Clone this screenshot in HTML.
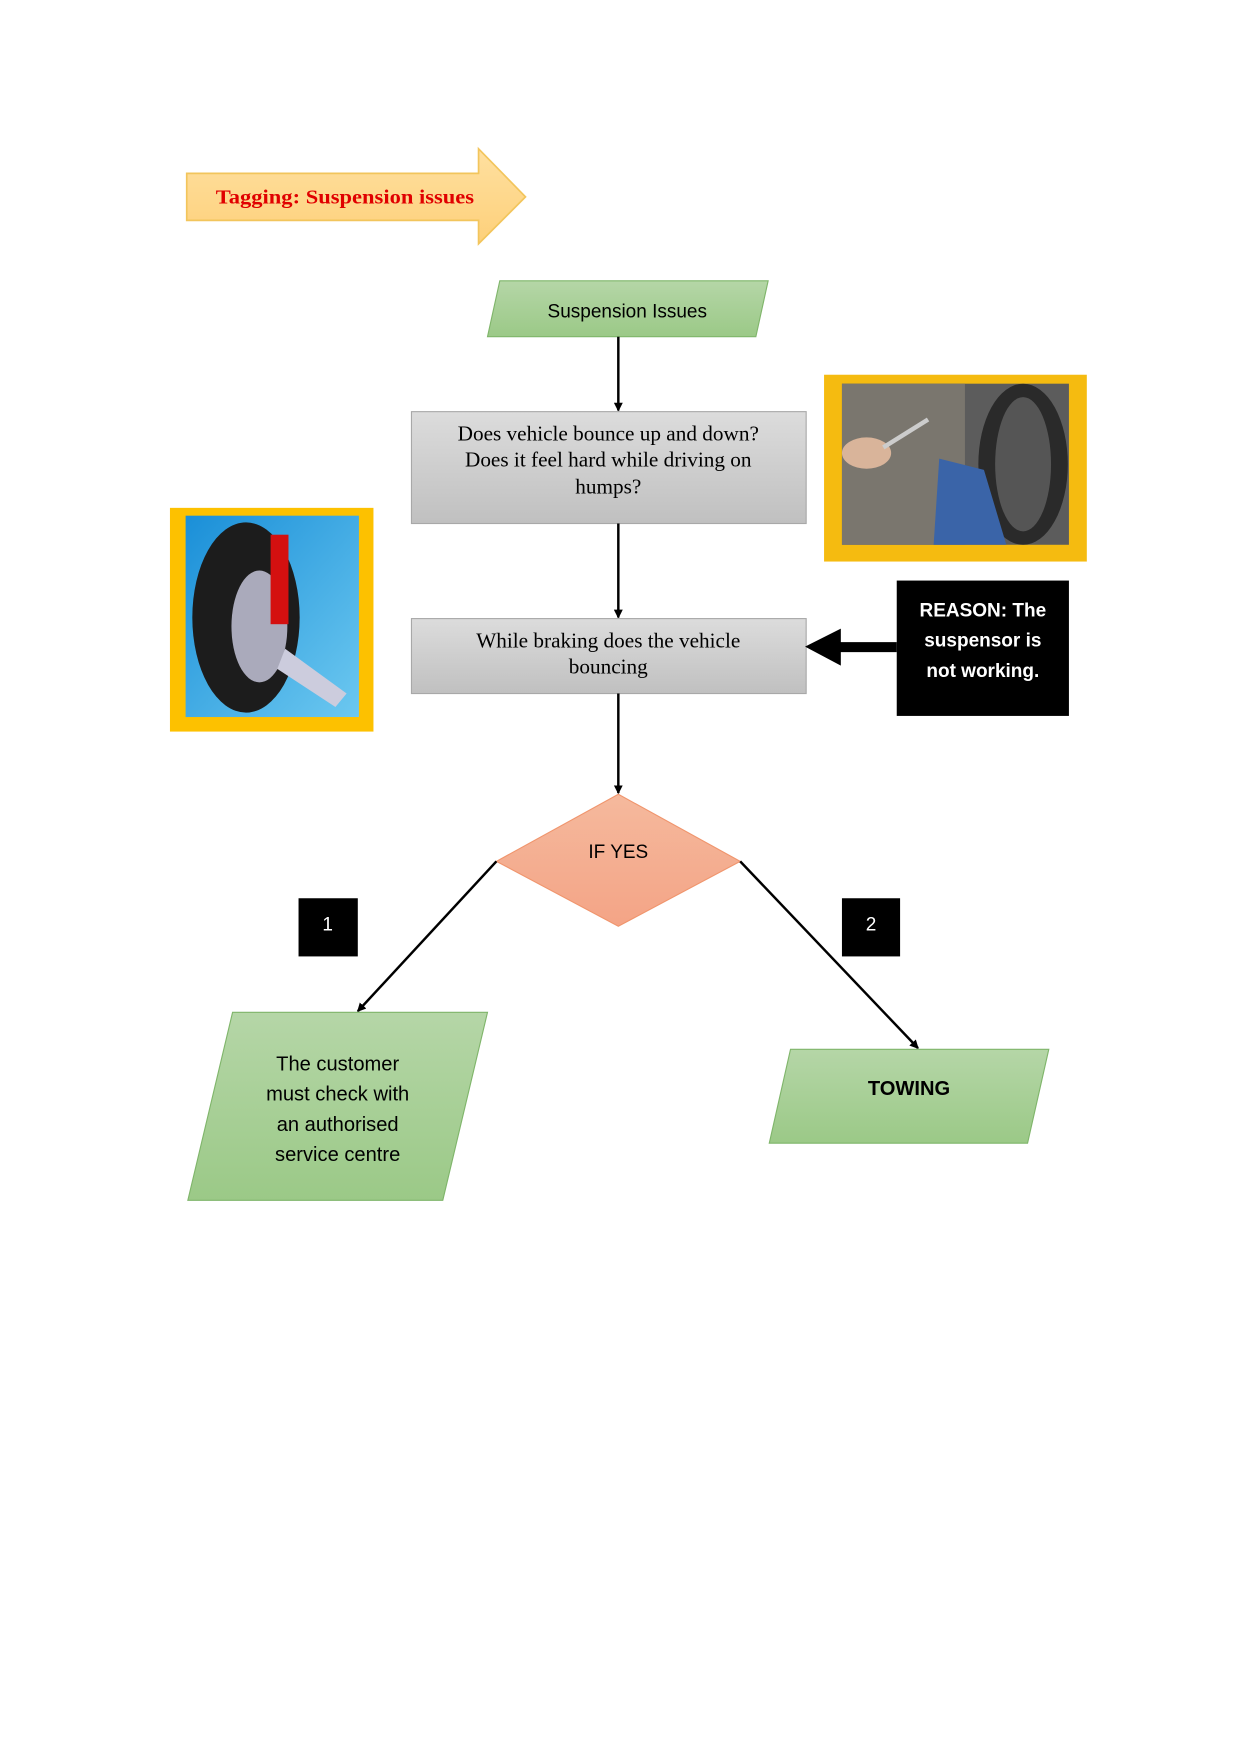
<!DOCTYPE html>
<html><head><meta charset="utf-8"><style>
html,body{margin:0;padding:0;background:#fff;}
svg{display:block;}
</style></head><body>
<svg width="1240" height="1754" viewBox="0 0 1109 1568" preserveAspectRatio="none" xmlns="http://www.w3.org/2000/svg">
<defs>
<linearGradient id="grn" x1="0" y1="0" x2="0" y2="1"><stop offset="0" stop-color="#b5d6a7"/><stop offset="1" stop-color="#9bc987"/></linearGradient>
<linearGradient id="gry" x1="0" y1="0" x2="0" y2="1"><stop offset="0" stop-color="#dcdcdc"/><stop offset="1" stop-color="#c0c0c0"/></linearGradient>
<linearGradient id="org" x1="0" y1="0" x2="0" y2="1"><stop offset="0" stop-color="#f5b99d"/><stop offset="1" stop-color="#f4a486"/></linearGradient>
<linearGradient id="yel" x1="0" y1="0" x2="0" y2="1"><stop offset="0" stop-color="#ffe0a0"/><stop offset="1" stop-color="#fdd07a"/></linearGradient>
<linearGradient id="sky" x1="0" y1="0" x2="1" y2="1"><stop offset="0" stop-color="#1a8fd8"/><stop offset="1" stop-color="#6cc8f0"/></linearGradient>
<marker id="ah" markerWidth="8" markerHeight="8" refX="7" refY="4" orient="auto" markerUnits="userSpaceOnUse"><path d="M0,0 L8,4 L0,8 z" fill="#000"/></marker>
</defs>
<polygon points="167,155 428,155 428,133 470,176 428,218 428,197 167,197" fill="url(#yel)" stroke="#f2c55c" stroke-width="1.5"/>
<text x="193" y="182" font-family="Liberation Serif, serif" font-size="18" font-weight="bold" fill="#e00000" textLength="231" lengthAdjust="spacingAndGlyphs">Tagging: Suspension issues</text>
<polygon points="447,251 687,251 676,301 436,301" fill="url(#grn)" stroke="#7fb56a"/>
<text x="561" y="284" text-anchor="middle" font-family="Liberation Sans, sans-serif" font-size="17">Suspension Issues</text>
<line x1="553" y1="301" x2="553" y2="367" stroke="#000" stroke-width="2.2" marker-end="url(#ah)"/>
<rect x="368" y="368" width="353" height="100" fill="url(#gry)" stroke="#a8a8a8"/>
<g font-family="Liberation Serif, serif" font-size="19" text-anchor="middle">
<text x="544" y="394">Does vehicle bounce up and down?</text>
<text x="544" y="417">Does it feel hard while driving on</text>
<text x="544" y="441">humps?</text>
</g>
<line x1="553" y1="468" x2="553" y2="552" stroke="#000" stroke-width="2.2" marker-end="url(#ah)"/>
<rect x="368" y="553" width="353" height="67" fill="url(#gry)" stroke="#a8a8a8"/>
<g font-family="Liberation Serif, serif" font-size="19" text-anchor="middle">
<text x="544" y="579">While braking does the vehicle</text>
<text x="544" y="602">bouncing</text>
</g>
<line x1="553" y1="620" x2="553" y2="709" stroke="#000" stroke-width="2.2" marker-end="url(#ah)"/>
<rect x="802" y="519" width="154" height="121" fill="#000"/>
<g font-family="Liberation Sans, sans-serif" font-size="17" font-weight="bold" fill="#fff" text-anchor="middle">
<text x="879" y="551">REASON: The</text>
<text x="879" y="578">suspensor is</text>
<text x="879" y="605">not working.</text>
</g>
<polygon points="802,574 752,574 752,562 720,578 752,595 752,583 802,583" fill="#000"/>
<polygon points="553,710 662,770 553,828 444,770" fill="url(#org)" stroke="#f0956d"/>
<text x="553" y="767" text-anchor="middle" font-family="Liberation Sans, sans-serif" font-size="17">IF YES</text>
<line x1="444" y1="770" x2="320" y2="904" stroke="#000" stroke-width="2.2" marker-end="url(#ah)"/>
<line x1="662" y1="770" x2="821" y2="937" stroke="#000" stroke-width="2.2" marker-end="url(#ah)"/>
<rect x="267" y="803" width="53" height="52" fill="#000"/>
<text x="293" y="832" text-anchor="middle" font-family="Liberation Sans, sans-serif" font-size="17" fill="#fff">1</text>
<rect x="753" y="803" width="52" height="52" fill="#000"/>
<text x="779" y="832" text-anchor="middle" font-family="Liberation Sans, sans-serif" font-size="17" fill="#fff">2</text>
<polygon points="208,905 436,905 396,1073 168,1073" fill="url(#grn)" stroke="#7fb56a"/>
<g font-family="Liberation Sans, sans-serif" font-size="18" text-anchor="middle">
<text x="302" y="957">The customer</text>
<text x="302" y="984">must check with</text>
<text x="302" y="1011">an authorised</text>
<text x="302" y="1038">service centre</text>
</g>
<polygon points="707,938 938,938 919,1022 688,1022" fill="url(#grn)" stroke="#7fb56a"/>
<text x="813" y="979" text-anchor="middle" font-family="Liberation Sans, sans-serif" font-size="18" font-weight="bold">TOWING</text>
<rect x="737" y="335" width="235" height="167" fill="#f5bb10"/>
<rect x="753" y="343" width="203" height="144" fill="#5c5c5c"/>
<rect x="753" y="343" width="110" height="144" fill="#7a766e"/>
<ellipse cx="915" cy="415" rx="40" ry="72" fill="#2a2a2a"/>
<ellipse cx="915" cy="415" rx="25" ry="60" fill="#555"/>
<path d="M840,410 L880,420 L900,487 L835,487 Z" fill="#3a64a8"/>
<ellipse cx="775" cy="405" rx="22" ry="14" fill="#d9b49a"/>
<line x1="790" y1="400" x2="830" y2="375" stroke="#ccc" stroke-width="4"/>
<rect x="152" y="454" width="182" height="200" fill="#fdc100"/>
<rect x="166" y="461" width="155" height="180" fill="url(#sky)"/>
<ellipse cx="220" cy="552" rx="48" ry="85" fill="#1c1c1c"/>
<ellipse cx="232" cy="560" rx="25" ry="50" fill="#aab"/>
<rect x="242" y="478" width="16" height="80" fill="#d41010"/>
<path d="M255,580 L310,620 L300,632 L248,598 Z" fill="#ccd"/>
</svg>
</body></html>
